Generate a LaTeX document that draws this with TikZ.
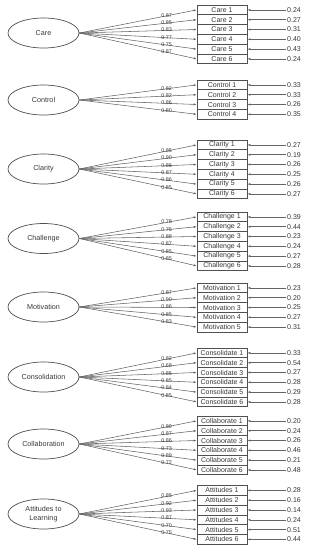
\documentclass[tikz,border=0pt]{standalone}
\usepackage{fontspec}
\setmainfont{Liberation Sans}
\usetikzlibrary{shapes.geometric,arrows.meta}
\definecolor{SEMline}{RGB}{100,100,100}
\definecolor{SEMbox}{RGB}{80,80,80}
\definecolor{SEMtext}{RGB}{55,55,55}
\tikzstyle{latent} = [ellipse, draw=SEMbox, line width=0.7pt,
                      minimum width=71pt, minimum height=30pt,
                      inner sep=0pt, align=center, text=SEMtext,
                      font=\fontsize{7.2}{8.5}\selectfont]
\tikzstyle{ind}    = [rectangle, draw=SEMbox, line width=0.7pt,
                      minimum width=50pt, minimum height=9.8pt,
                      inner sep=0pt, text=SEMtext,
                      font=\fontsize{7}{7}\selectfont]
\tikzstyle{errv}   = [anchor=west, inner sep=1pt, text=SEMtext,
                      font=\fontsize{7}{7}\selectfont]
\tikzstyle{lbl}    = [pos=0.745, inner sep=0pt, yshift=0.3pt, text=SEMtext,
                      font=\fontsize{5.4}{5.4}\selectfont]
\tikzstyle{load}   = [->, draw=SEMline, line width=0.55pt]

\begin{document}
\begin{tikzpicture}[x=1pt, y=-1pt, >={Latex[length=3pt,width=2.2pt]}]
  \useasboundingbox (0,0) rectangle (309,550);

  % Care
  \node[latent] (care) at (43.5,33) {Care};
  \foreach \i/\ld/\er in {1/0.87/0.24, 2/0.85/0.27, 3/0.83/0.31,
                          4/0.77/0.40, 5/0.75/0.43, 6/0.87/0.24} {
    \node[ind]  (care\i)  at (222,{5+(\i-0.5)*9.8}) {Care \i};
    \node[errv] (ecare\i) at (286,{5+(\i-0.5)*9.8}) {\er};
    \draw[load] (care.east) -- node[lbl]{\ld} (care\i.west);
    \draw[load] (ecare\i.west) -- (care\i.east);
  }

  % Control
  \node[latent] (control) at (43.5,100) {Control};
  \foreach \i/\ld/\er in {1/0.82/0.33, 2/0.82/0.33, 3/0.86/0.26, 4/0.80/0.35} {
    \node[ind]  (control\i)  at (222,{80+(\i-0.5)*9.8}) {Control \i};
    \node[errv] (econtrol\i) at (286,{80+(\i-0.5)*9.8}) {\er};
    \draw[load] (control.east) -- node[lbl]{\ld} (control\i.west);
    \draw[load] (econtrol\i.west) -- (control\i.east);
  }

  % Clarity
  \node[latent] (clarity) at (43.5,169) {Clarity};
  \foreach \i/\ld/\er in {1/0.85/0.27, 2/0.90/0.19, 3/0.86/0.26,
                          4/0.87/0.25, 5/0.86/0.26, 6/0.85/0.27} {
    \node[ind]  (clarity\i)  at (222,{140+(\i-0.5)*9.8}) {Clarity \i};
    \node[errv] (eclarity\i) at (286,{140+(\i-0.5)*9.8}) {\er};
    \draw[load] (clarity.east) -- node[lbl]{\ld} (clarity\i.west);
    \draw[load] (eclarity\i.west) -- (clarity\i.east);
  }

  % Challenge
  \node[latent] (challenge) at (43.5,238.5) {Challenge};
  \foreach \i/\ld/\er in {1/0.78/0.39, 2/0.75/0.44, 3/0.88/0.23,
                          4/0.87/0.24, 5/0.85/0.27, 6/0.85/0.28} {
    \node[ind]  (challenge\i)  at (222,{212+(\i-0.5)*9.8}) {Challenge \i};
    \node[errv] (echallenge\i) at (286,{212+(\i-0.5)*9.8}) {\er};
    \draw[load] (challenge.east) -- node[lbl]{\ld} (challenge\i.west);
    \draw[load] (echallenge\i.west) -- (challenge\i.east);
  }

  % Motivation
  \node[latent] (motivation) at (43.5,307) {Motivation};
  \foreach \i/\ld/\er in {1/0.87/0.23, 2/0.90/0.20, 3/0.86/0.25,
                          4/0.85/0.27, 5/0.83/0.31} {
    \node[ind]  (motivation\i)  at (222,{283+(\i-0.5)*9.8}) {Motivation \i};
    \node[errv] (emotivation\i) at (286,{283+(\i-0.5)*9.8}) {\er};
    \draw[load] (motivation.east) -- node[lbl]{\ld} (motivation\i.west);
    \draw[load] (emotivation\i.west) -- (motivation\i.east);
  }

  % Consolidation
  \node[latent] (consol) at (43.5,377) {Consolidation};
  \foreach \i/\ld/\er in {1/0.82/0.33, 2/0.68/0.54, 3/0.85/0.27,
                          4/0.85/0.28, 5/0.84/0.29, 6/0.85/0.28} {
    \node[ind]  (consol\i)  at (222,{348+(\i-0.5)*9.8}) {Consolidate \i};
    \node[errv] (econsol\i) at (286,{348+(\i-0.5)*9.8}) {\er};
    \draw[load] (consol.east) -- node[lbl]{\ld} (consol\i.west);
    \draw[load] (econsol\i.west) -- (consol\i.east);
  }

  % Collaboration
  \node[latent] (collab) at (43.5,444) {Collaboration};
  \foreach \i/\ld/\er in {1/0.89/0.20, 2/0.87/0.24, 3/0.86/0.26,
                          4/0.73/0.46, 5/0.89/0.21, 6/0.72/0.48} {
    \node[ind]  (collab\i)  at (222,{416+(\i-0.5)*9.8}) {Collaborate \i};
    \node[errv] (ecollab\i) at (286,{416+(\i-0.5)*9.8}) {\er};
    \draw[load] (collab.east) -- node[lbl]{\ld} (collab\i.west);
    \draw[load] (ecollab\i.west) -- (collab\i.east);
  }

  % Attitudes to Learning
  \node[latent] (attit) at (43.5,514) {Attitudes to\\Learning};
  \foreach \i/\ld/\er in {1/0.85/0.28, 2/0.92/0.16, 3/0.93/0.14,
                          4/0.87/0.24, 5/0.70/0.51, 6/0.75/0.44} {
    \node[ind]  (attit\i)  at (222,{485.5+(\i-0.5)*9.8}) {Attitudes \i};
    \node[errv] (eattit\i) at (286,{485.5+(\i-0.5)*9.8}) {\er};
    \draw[load] (attit.east) -- node[lbl]{\ld} (attit\i.west);
    \draw[load] (eattit\i.west) -- (attit\i.east);
  }
\end{tikzpicture}
\end{document}
